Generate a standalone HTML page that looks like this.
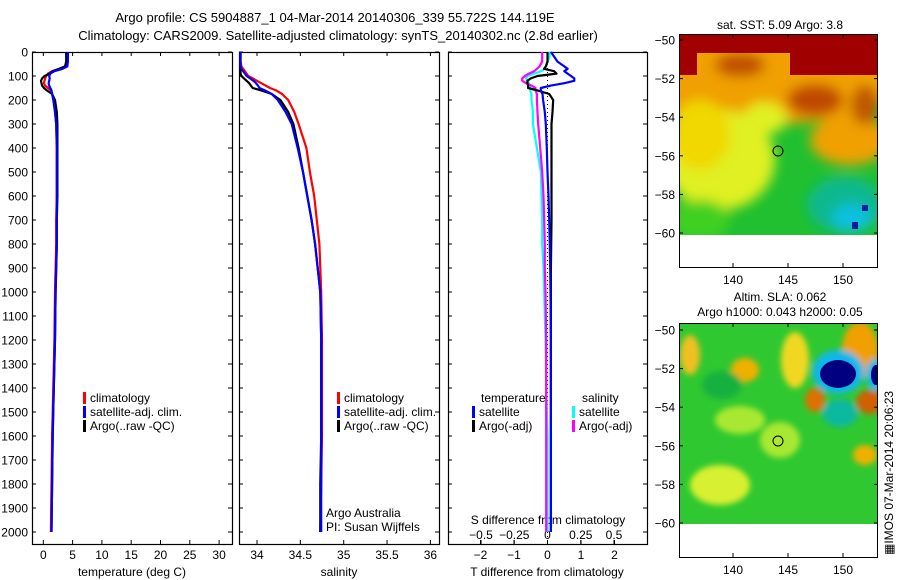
<!DOCTYPE html>
<html><head><meta charset="utf-8"><style>
html,body{margin:0;padding:0;background:#fff;}
svg{display:block;font-family:"Liberation Sans",sans-serif;}
text{fill:#000;}
</style></head><body>
<svg id="fig" width="900" height="580" viewBox="0 0 900 580" xmlns="http://www.w3.org/2000/svg">
<defs>
<filter id="bl" x="-50%" y="-50%" width="200%" height="200%"><feGaussianBlur stdDeviation="6"/></filter>
<filter id="bl2" x="-50%" y="-50%" width="200%" height="200%"><feGaussianBlur stdDeviation="3"/></filter>
<clipPath id="c1"><rect x="679" y="35" width="199" height="200"/></clipPath>
<clipPath id="c2"><rect x="679" y="324" width="199" height="200"/></clipPath>
</defs>
<text x="335" y="22" font-size="13" text-anchor="middle">Argo profile: CS 5904887_1 04-Mar-2014 20140306_339 55.722S 144.119E</text>
<text x="338" y="40" font-size="13" text-anchor="middle">Climatology: CARS2009. Satellite-adjusted climatology: synTS_20140302.nc (2.8d earlier)</text>

<!-- SST map -->
<g clip-path="url(#c1)">
<rect x="679" y="35" width="199" height="200" fill="#20c030"/>
<g filter="url(#bl)">
<ellipse cx="760" cy="80" rx="140" ry="45" fill="#f0a000"/>
<ellipse cx="720" cy="160" rx="55" ry="50" fill="#e0f020"/>
<ellipse cx="700" cy="135" rx="30" ry="35" fill="#f0d800"/>
<ellipse cx="765" cy="118" rx="22" ry="16" fill="#e0f020"/>
<ellipse cx="700" cy="220" rx="30" ry="20" fill="#40d020"/>
<ellipse cx="850" cy="140" rx="40" ry="25" fill="#f0a000"/>
<ellipse cx="845" cy="205" rx="38" ry="28" fill="#10b890"/>
<ellipse cx="852" cy="218" rx="20" ry="14" fill="#10c0e0"/>
<ellipse cx="815" cy="100" rx="28" ry="16" fill="#c04800"/>
<ellipse cx="865" cy="105" rx="14" ry="20" fill="#c05800"/>
<ellipse cx="740" cy="65" rx="25" ry="12" fill="#c05000"/>
</g>
<rect x="679" y="35" width="199" height="18" fill="#a00000"/>
<rect x="790" y="35" width="88" height="40" fill="#a00000"/>
<rect x="679" y="53" width="18" height="22" fill="#a00000"/>
<rect x="862" y="205" width="6" height="6" fill="#0020a0"/>
<rect x="852" y="222" width="6" height="7" fill="#0020a0"/>
</g>
<rect x="679" y="235" width="199" height="33" fill="#fff"/>
<circle cx="778" cy="151" r="5" fill="none" stroke="#000" stroke-width="1"/>
<rect x="679.5" y="34.5" width="198" height="233" fill="none" stroke="#000"/>
<text x="780" y="29" font-size="12" text-anchor="middle">sat. SST: 5.09 Argo: 3.8</text>

<!-- SLA map -->
<g clip-path="url(#c2)">
<rect x="679" y="324" width="199" height="200" fill="#30c830"/>
<g filter="url(#bl2)">
<ellipse cx="745" cy="370" rx="14" ry="12" fill="#f0b000"/>
<ellipse cx="795" cy="360" rx="14" ry="28" fill="#f0d820"/>
<ellipse cx="690" cy="355" rx="10" ry="20" fill="#f0c020"/>
<ellipse cx="720" cy="485" rx="30" ry="20" fill="#d8f030"/>
<ellipse cx="780" cy="440" rx="20" ry="18" fill="#a8e830"/>
<ellipse cx="740" cy="420" rx="25" ry="14" fill="#a8e830"/>
<ellipse cx="815" cy="400" rx="10" ry="12" fill="#e07000"/>
<ellipse cx="860" cy="350" rx="18" ry="28" fill="#f0a000"/>
<ellipse cx="870" cy="402" rx="14" ry="12" fill="#d06000"/>
<ellipse cx="865" cy="455" rx="12" ry="10" fill="#f0b000"/>
<ellipse cx="840" cy="413" rx="18" ry="14" fill="#10b8a0"/>
<ellipse cx="722" cy="385" rx="20" ry="14" fill="#18b040"/>
<ellipse cx="838" cy="372" rx="26" ry="22" fill="#10b8e8"/>
<ellipse cx="875" cy="375" rx="9" ry="16" fill="#10b8e8"/>
</g>
<ellipse cx="838" cy="374" rx="18" ry="14" fill="#000080"/>
<ellipse cx="876" cy="375" rx="5" ry="10" fill="#000080"/>
</g>
<rect x="679" y="524" width="199" height="34" fill="#fff"/>
<circle cx="778" cy="441" r="5" fill="none" stroke="#000" stroke-width="1"/>
<rect x="679.5" y="323.5" width="198" height="234" fill="none" stroke="#000"/>
<text x="780" y="301" font-size="12" text-anchor="middle">Altim. SLA: 0.062</text>
<text x="780" y="316" font-size="12" text-anchor="middle">Argo h1000: 0.043 h2000: 0.05</text>
<text x="0" y="0" font-size="12" transform="translate(893,555) rotate(-90)">&#9638;IMOS 07-Mar-2014 20:06:23</text>
<g id="plots"></g>
</svg>
<script>
// ---- data ----
const depths = [0,20,40,60,70,80,90,100,110,120,130,140,150,160,175,200,250,300,400,500,600,700,800,900,1000,1200,1400,1600,1800,2000];
const tempClim = [4.1,4.1,4.0,3.8,2.8,1.5,0.8,0.5,0.3,0.2,0.1,0.3,0.8,1.3,1.5,1.8,2.0,2.2,2.3,2.3,2.3,2.2,2.2,2.1,2.0,1.9,1.7,1.5,1.4,1.3];
const tempSat = [4.2,4.2,4.2,4.1,3.3,1.9,1.2,1.0,1.1,1.0,0.9,1.0,1.2,1.4,1.5,1.7,2.0,2.2,2.3,2.3,2.3,2.3,2.3,2.2,2.1,2.0,1.8,1.6,1.5,1.4];
const tempArgo = [3.9,3.9,3.9,3.7,2.7,1.6,1.1,0.2,-0.2,-0.4,-0.3,-0.2,0.1,0.6,1.5,2.0,2.3,2.4,2.4,2.4,2.4,2.3,2.3,2.2,2.1,2.0,1.8,1.6,1.5,1.4];
const salClim = [33.81,33.81,33.81,33.82,33.84,33.86,33.88,33.90,33.95,34.00,34.05,34.10,34.15,34.22,34.29,34.36,34.43,34.48,34.57,34.61,34.66,34.69,34.72,34.73,34.74,34.75,34.75,34.75,34.74,34.73];
const salSat = [33.81,33.81,33.81,33.81,33.82,33.84,33.86,33.88,33.92,33.96,33.99,34.01,34.03,34.09,34.17,34.24,34.33,34.40,34.47,34.53,34.58,34.63,34.67,34.70,34.73,34.74,34.74,34.74,34.74,34.74];
const salArgo = [33.81,33.81,33.81,33.81,33.81,33.81,33.81,33.82,33.85,33.88,33.91,33.93,33.95,34.05,34.17,34.27,34.36,34.42,34.48,34.53,34.58,34.63,34.67,34.70,34.73,34.74,34.74,34.74,34.73,34.73];
const tDiffSat = [0.1,0.2,0.3,0.5,0.6,0.5,0.6,0.7,0.8,0.8,0.5,0.1,-0.2,-0.2,-0.15,-0.13,-0.08,-0.05,-0.02,0.0,0.03,0.05,0.07,0.08,0.09,0.1,0.1,0.1,0.1,0.1];
const tDiffArgo = [0.0,0.0,0.0,-0.05,-0.1,0.2,0.27,-0.3,-0.5,-0.6,-0.6,-0.58,-0.58,-0.3,0.05,0.17,0.15,0.12,0.12,0.12,0.12,0.12,0.11,0.1,0.1,0.1,0.1,0.1,0.1,0.1];
const sDiffSat = [0.015,0.015,0.0,-0.01,-0.02,-0.05,-0.1,-0.15,-0.16,-0.15,-0.14,-0.13,-0.13,-0.13,-0.12,-0.12,-0.11,-0.11,-0.08,-0.05,-0.045,-0.04,-0.04,-0.03,-0.025,-0.015,-0.01,0.0,0.0,0.0];
const sDiffArgo = [-0.04,-0.04,-0.04,-0.06,-0.08,-0.1,-0.14,-0.17,-0.19,-0.19,-0.16,-0.12,-0.09,-0.09,-0.08,-0.08,-0.075,-0.07,-0.055,-0.04,-0.03,-0.025,-0.02,-0.02,-0.015,-0.01,-0.01,-0.01,-0.01,-0.01];
const depthTicks = [0,100,200,300,400,500,600,700,800,900,1000,1100,1200,1300,1400,1500,1600,1700,1800,1900,2000];
const tempTicks = [0,5,10,15,20,25,30];
const salTicks = [34,34.5,35,35.5,36];
const tDiffTicks = [-2,-1,0,1,2];
const sDiffTicks = [-0.5,-0.25,0,0.25,0.5];
const sDiffTickLabels = ['\u22120.5','\u22120.25','0','0.25','0.5'];
const latTicks = [-50,-52,-54,-56,-58,-60];
const lonTicks = [140,145,150];

// ---- axes ----
const Y0=52, YS=0.24;
const yD = d => Y0 + d*YS;
const xT = t => 43.3 + t*5.86;
const xS = s => 257 + (s-34)*86.7;
const xTD = t => 547.5 + t*33.5;
const xSD = s => 547.5 + s*133;
const NS='http://www.w3.org/2000/svg';
const root=document.getElementById('plots');
function mk(tag, attrs, txt){const e=document.createElementNS(NS,tag);for(const k in attrs)e.setAttribute(k,attrs[k]);if(txt!==undefined)e.textContent=txt;root.appendChild(e);return e;}
function series(xf, vals, color, name){
  let p='';
  for(let i=0;i<depths.length;i++){p+=(i?'L':'M')+xf(vals[i]).toFixed(1)+','+yD(depths[i]).toFixed(1);}
  const e=mk('path',{d:p,fill:'none',stroke:color,'stroke-width':2.2,'stroke-linejoin':'round'});
  
  
}
const panels=[[32,232,'temperature-panel'],[239,439,'salinity-panel'],[448,647,'difference-panel']];
panels.forEach(p=>{
  const r=mk('rect',{x:p[0]+0.5,y:52.5,width:p[1]-p[0],height:492,fill:'none',stroke:'#000','stroke-width':1.2});
  
  
});
depthTicks.forEach(d=>{
  const t=mk('text',{x:28,y:yD(d)+4.5,'font-size':12,'text-anchor':'end'},String(d));
  
  
  panels.forEach(p=>{
    const l=mk('line',{x1:p[0],x2:p[0]+4,y1:yD(d),y2:yD(d),stroke:'#000'});
    
    
    const l2=mk('line',{x1:p[1]-4,x2:p[1],y1:yD(d),y2:yD(d),stroke:'#000'});
    
    
  });
});
function xticks(ticks,labels,xf,top,bot,ly){
  ticks.forEach((v,i)=>{
    const a=mk('line',{x1:xf(v),x2:xf(v),y1:bot-4,y2:bot,stroke:'#000'});
    
    
    if(top!==null){const b=mk('line',{x1:xf(v),x2:xf(v),y1:top,y2:top+4,stroke:'#000'});
    
    }
    const t=mk('text',{x:xf(v),y:ly,'font-size':12,'text-anchor':'middle'},labels[i]);
    
    
  });
}
xticks(tempTicks,tempTicks.map(String),xT,52,544,559);
xticks(salTicks,salTicks.map(String),xS,52,544,559);
xticks(tDiffTicks,tDiffTicks.map(v=>v<0?'\u2212'+(-v):String(v)),xTD,null,544,559);
xticks(sDiffTicks,sDiffTickLabels,xSD,null,544,539);
[['temperature (deg C)',132,'temperature-axis-title'],['salinity',339,'salinity-axis-title'],['T difference from climatology',547,'t-difference-axis-title']].forEach(a=>{
  const t=mk('text',{x:a[1],y:576,'font-size':12,'text-anchor':'middle'},a[0]);
  
  
});
const st=mk('text',{x:548,y:524,'font-size':12,'text-anchor':'middle'},'S difference from climatology');


const z=mk('line',{x1:xTD(0),x2:xTD(0),y1:52,y2:544,stroke:'#000','stroke-dasharray':'1,3'});


series(xT,tempClim,'#f00','temp-climatology-line');
series(xT,tempArgo,'#000','temp-argo-line');
series(xT,tempSat,'#00f','temp-satellite-line');
series(xS,salClim,'#f00','sal-climatology-line');
series(xS,salArgo,'#000','sal-argo-line');
series(xS,salSat,'#00f','sal-satellite-line');
series(xSD,sDiffSat,'#0ff','s-diff-satellite-line');
series(xSD,sDiffArgo,'#f0f','s-diff-argo-line');
series(xTD,tDiffArgo,'#000','t-diff-argo-line');
series(xTD,tDiffSat,'#00f','t-diff-satellite-line');
function leg(x,y,color,label,name){
  const r=mk('rect',{x:x,y:y-10,width:3,height:12,fill:color});
  
  
  const t=mk('text',{x:x+7,y:y,'font-size':12},label);
  
  
}
leg(83,402,'#f00','climatology','legend-climatology');
leg(83,416,'#00f','satellite-adj. clim.','legend-satellite');
leg(83,430,'#000','Argo(..raw -QC)','legend-argo');
leg(337,402,'#f00','climatology','legend-climatology-sal');
leg(337,416,'#00f','satellite-adj. clim.','legend-satellite-sal');
leg(337,430,'#000','Argo(..raw -QC)','legend-argo-sal');
leg(472,416,'#00f','satellite','legend-t-satellite');
leg(472,430,'#000','Argo(-adj)','legend-t-argo');
leg(572,416,'#0ff','satellite','legend-s-satellite');
leg(572,430,'#f0f','Argo(-adj)','legend-s-argo');
[['temperature',481,'legend-temperature-heading'],['salinity',582,'legend-salinity-heading']].forEach(a=>{
  const t=mk('text',{x:a[1],y:402,'font-size':12},a[0]);
  
  
});
const c1=mk('text',{x:326,y:517,'font-size':12},'Argo Australia');


const c2=mk('text',{x:326,y:531,'font-size':12},'PI: Susan Wijffels');


const latY1 = l => 40 + (-50-l)*19.3;
const latY2 = l => 330 + (-50-l)*19.3;
const lonX = l => 733 + (l-140)*11;
[[latY1,34,267],[latY2,323,557]].forEach(m=>{
  latTicks.forEach(l=>{
    const t=mk('text',{x:675,y:m[0](l)+4.5,'font-size':12,'text-anchor':'end'},'\u2212'+(-l));
    
    
    const a=mk('line',{x1:679,x2:683,y1:m[0](l),y2:m[0](l),stroke:'#000'});
    
    
    const b=mk('line',{x1:874,x2:878,y1:m[0](l),y2:m[0](l),stroke:'#000'});
    
    
  });
  lonTicks.forEach(l=>{
    const t=mk('text',{x:lonX(l),y:m[2]+17,'font-size':12,'text-anchor':'middle'},String(l));
    
    
    const a=mk('line',{x1:lonX(l),x2:lonX(l),y1:m[2]-4,y2:m[2],stroke:'#000'});
    
    
    const b=mk('line',{x1:lonX(l),x2:lonX(l),y1:m[1],y2:m[1]+4,stroke:'#000'});
    
    
  });
});
</script>
</body></html>
